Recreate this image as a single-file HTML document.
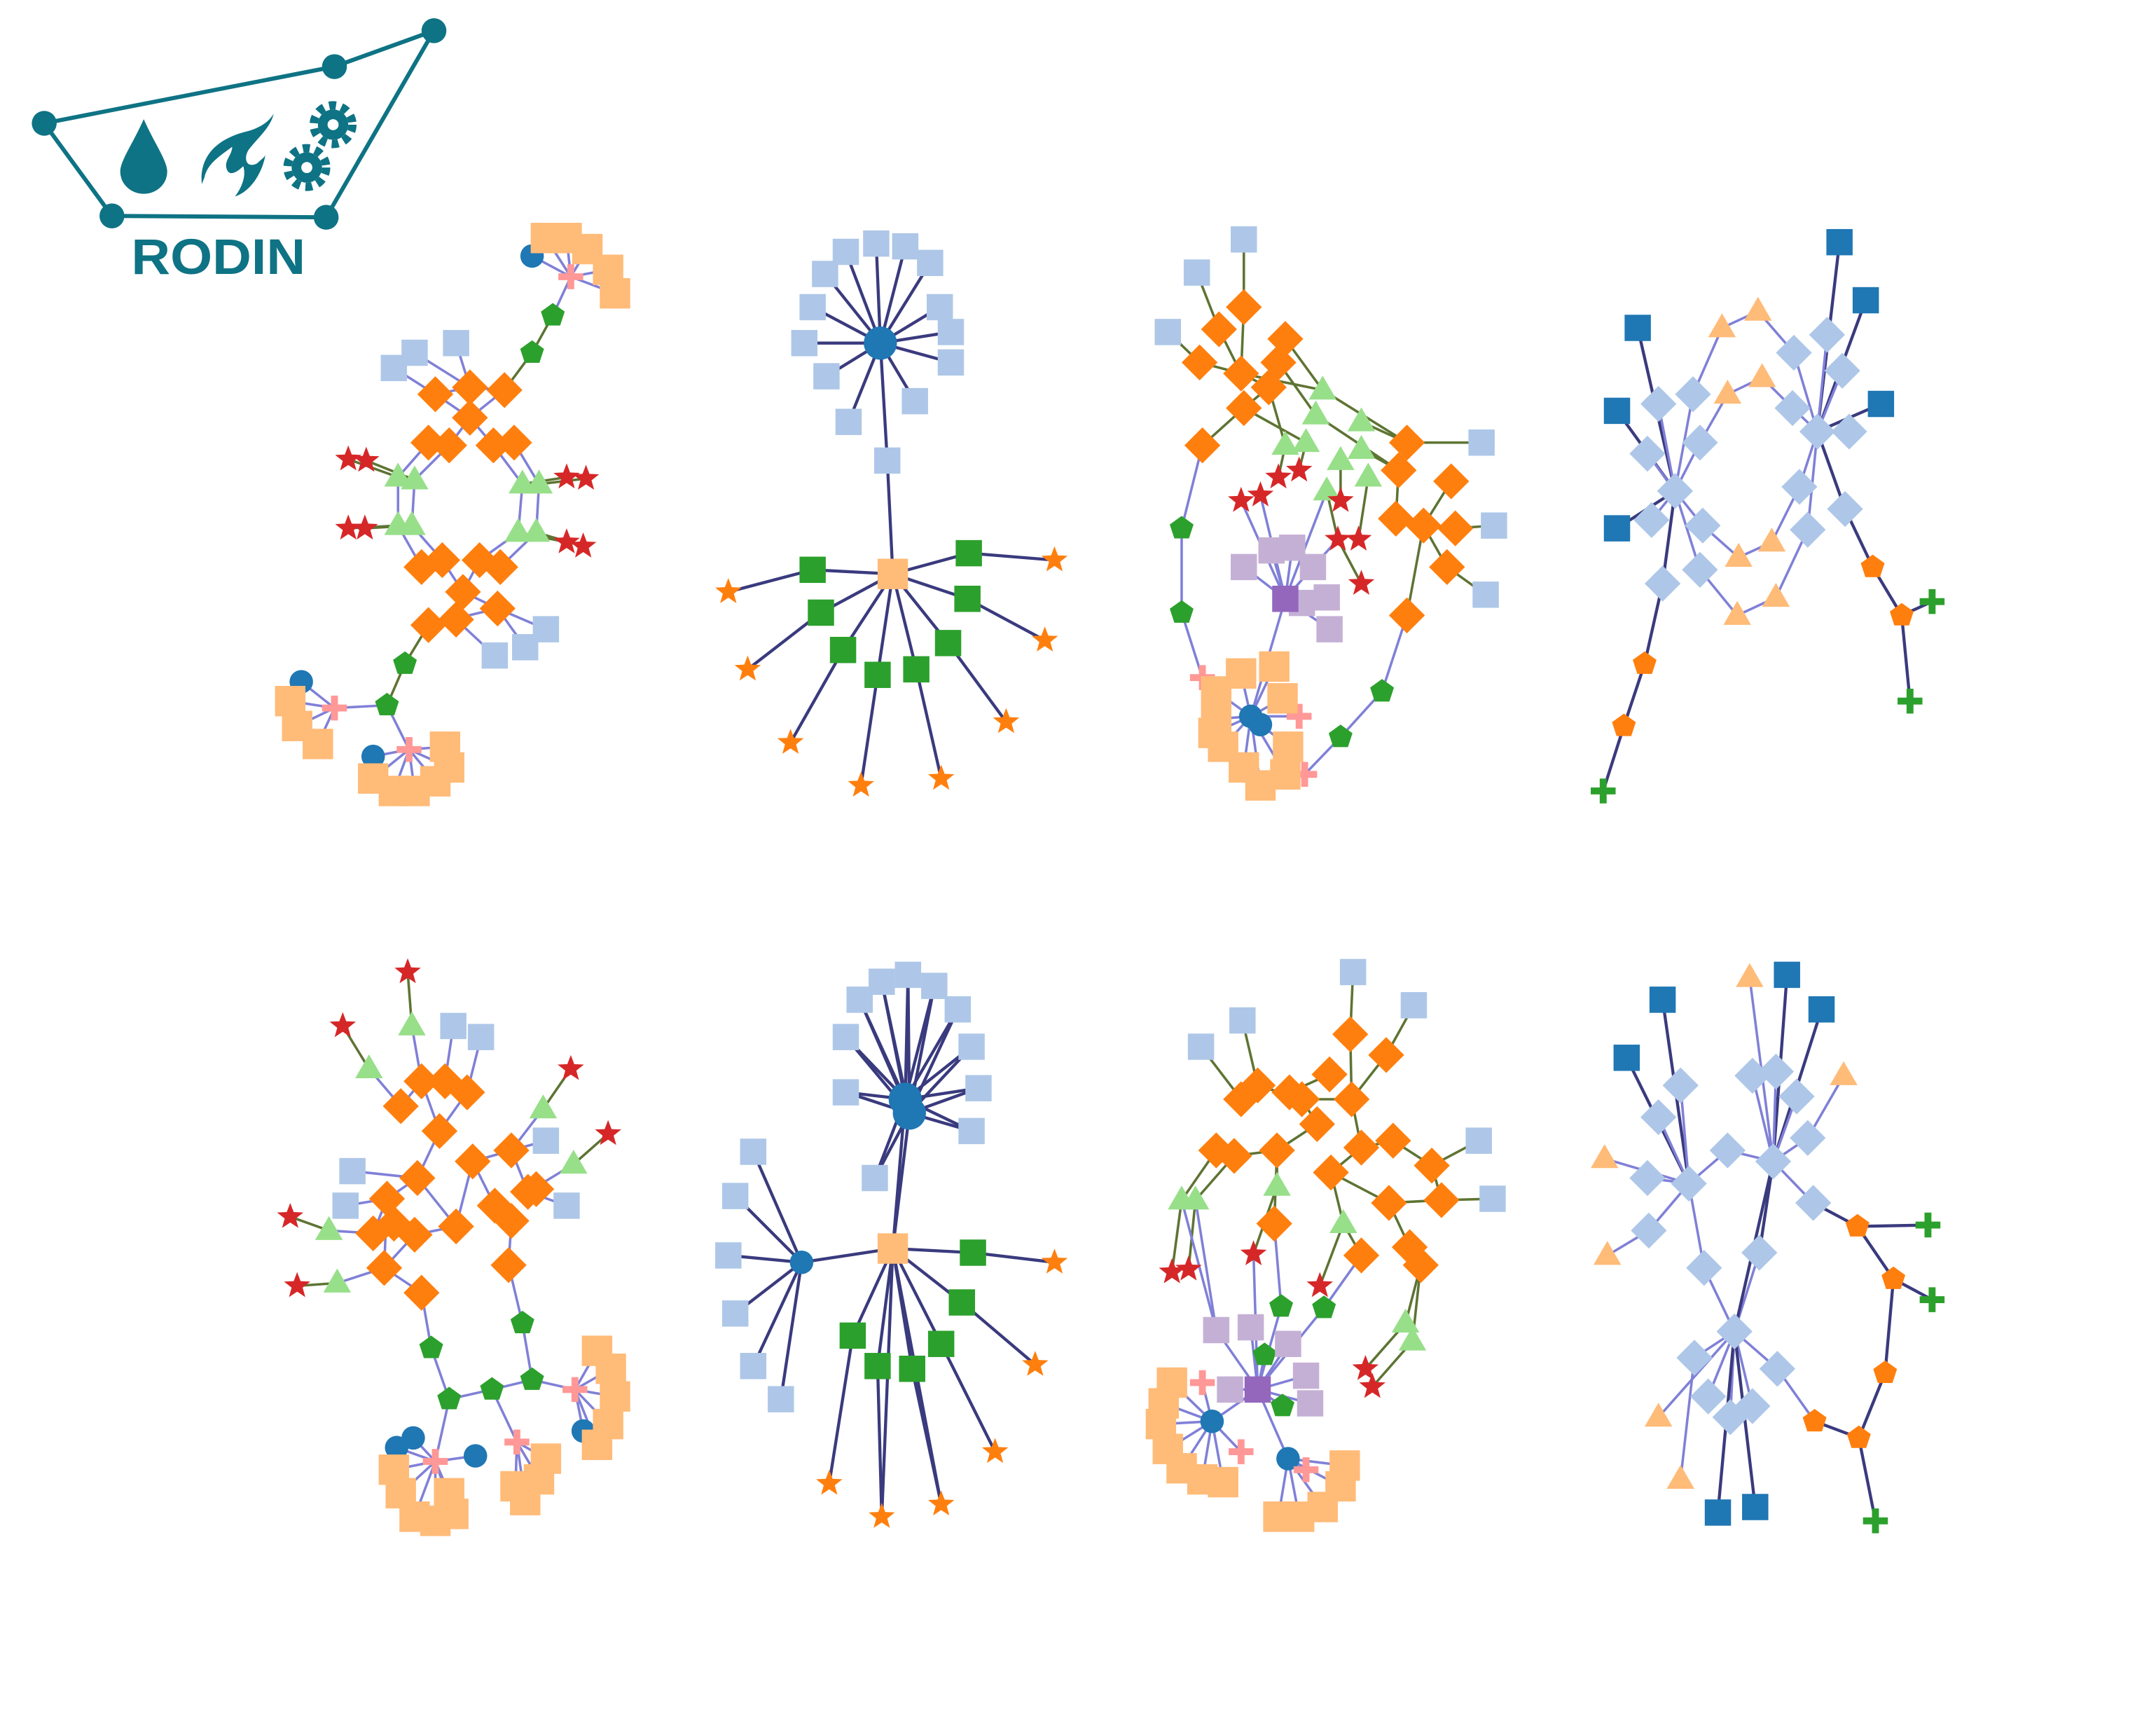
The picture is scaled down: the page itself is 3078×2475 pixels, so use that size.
<!DOCTYPE html>
<html><head><meta charset="utf-8"><style>
html,body{margin:0;padding:0;background:#fff;}
svg{display:block;}
</style></head><body>
<svg id="chart" width="3078" height="2475" viewBox="0 0 1560 1254" xmlns="http://www.w3.org/2000/svg">
<rect width="1560" height="1254" fill="#fff"/>
<g fill="#0e7384" stroke="#0e7384">
<polyline points="32,89 242,48 314,22 236,157 81,156 32,89" fill="none" stroke-width="3"/>
<circle cx="32" cy="89" r="9" stroke="none"/><circle cx="242" cy="48" r="9" stroke="none"/><circle cx="314" cy="22" r="9" stroke="none"/><circle cx="236" cy="157" r="9" stroke="none"/><circle cx="81" cy="156" r="9" stroke="none"/>
<path d="M104 86 C96 104 87 116 87 124 A17 16 0 0 0 121 124 C121 116 112 104 104 86Z" stroke="none"/>
<path d="M146 133 C144 112 158 100 178 95 C190 92 196 86 198 82 C196 92 186 100 180 108 C176 114 178 122 186 118 C188 116 191 114 192 112 C190 124 182 138 170 142 C176 134 178 126 176 120 C172 124 166 128 164 122 C162 116 168 112 168 106 C160 112 150 118 148 128Z" stroke="none"/>
<g><circle cx="241" cy="90" r="14" fill="none" stroke-width="6" stroke-dasharray="5 4"/><circle cx="241" cy="90" r="11" stroke="none"/><circle cx="241" cy="90" r="4" fill="#fff" stroke="none"/></g>
<g><circle cx="222" cy="121" r="14" fill="none" stroke-width="6" stroke-dasharray="5 4"/><circle cx="222" cy="121" r="11" stroke="none"/><circle cx="222" cy="121" r="4" fill="#fff" stroke="none"/></g>
<text x="158" y="198" text-anchor="middle" font-family="Liberation Sans, sans-serif" font-weight="bold" font-size="36" textLength="126" lengthAdjust="spacingAndGlyphs" stroke="none">RODIN</text>
</g>
<g id="edges"></g><g id="nodes"></g>
</svg>
<script>
const TYPES={D:['diamond','#ff7f0e'],L:['square','#aec7e8'],T:['triangle','#98df8a'],R:['star','#d62728'],P:['pentagon','#2ca02c'],C:['circle','#1f77b4'],X:['plus','#ff9896'],Q:['bigsquare','#ffbb78'],V:['square','#c5b0d5'],U:['square','#9467bd'],B:['square','#1f77b4'],O:['star','#ff7f0e'],E:['square','#2ca02c'],Y:['triangle','#ffbb78'],Z:['pentagon','#ff7f0e'],K:['plus','#2ca02c'],A:['diamond','#aec7e8']};
const EC={l:'#8080d8',d:'#3a3a7e',o:'#5e7433'};

const g1Nodes={D:[[315,285],[340,280],[365,282],[340,302],[310,320],[325,322],[357,322],[372,320],[305,410],[320,405],[347,405],[362,410],[335,428],[330,448],[360,440],[310,452]],
T:[[288,345],[300,347],[378,350],[390,350],[288,380],[298,380],[375,385],[388,385]],
R:[[252,332],[265,333],[410,345],[424,346],[252,382],[264,382],[410,392],[422,395]],
L:[[285,266],[300,255],[330,248],[395,455],[380,468],[358,474]],
P:[[400,228],[385,255],[293,480],[280,510]],C:[[385,185],[218,493],[270,547]],X:[[413,200],[242,512],[296,542]],
Q:[[395,172],[410,172],[425,180],[440,195],[445,212],[210,507],[215,525],[230,538],[270,563],[285,572],[300,572],[315,565],[325,555],[322,540]]};
const g1Edges="D0 D1 l,D1 D2 l,D0 D3 l,D3 D2 l,D1 D3 l,D4 D5 l,D6 D7 l,D3 D5 l,D3 D6 l,D4 T0 l,D5 T1 l,D6 T2 l,D7 T3 l,T0 T4 l,T1 T5 l,T2 T6 l,T3 T7 l,T4 D8 l,T5 D9 l,T6 D10 l,T7 D11 l,D8 D9 l,D10 D11 l,D9 D12 l,D10 D12 l,D12 D13 l,D12 D14 l,D13 D15 l,D14 D15 l,D0 L0 l,D1 L1 l,D1 L2 l,D14 L3 l,D14 L4 l,D13 L5 l,D2 P1 o,P1 P0 o,P0 X0 l,X0 C0 l,X0 Q0-4 l,D15 P2 o,P2 P3 o,P3 X1 l,X1 C1 l,X1 Q5-7 l,P3 X2 l,X2 C2 l,X2 Q8-13 l,T0 R0 o,T1 R1 o,T2 R2 o,T3 R3 o,T4 R4 o,T5 R5 o,T6 R6 o,T7 R7 o";

const g2Nodes={C:[[637,248]],L:[[612,182],[634,176],[655,178],[673,190],[680,222],[688,240],[688,262],[662,290],[642,333],[614,305],[598,272],[582,248],[588,222],[597,198]],
Q:[[646,415]],E:[[588,412],[594,443],[610,470],[635,488],[663,484],[686,465],[700,433],[701,400]],
O:[[527,428],[541,484],[572,537],[623,568],[681,563],[728,522],[756,463],[763,405]]};
const g2Edges="C0 L0-13 d,L8 Q0 d,Q0 E0-7 d,E0 O0 d,E1 O1 d,E2 O2 d,E3 O3 d,E4 O4 d,E5 O5 d,E6 O6 d,E7 O7 d";

const g3Nodes={L:[[900,173],[866,197],[845,240],[1072,320],[1081,380],[1075,430]],
D:[[900,222],[882,238],[868,262],[898,270],[930,245],[925,262],[918,280],[900,295],[870,322],[1018,320],[1012,340],[1050,348],[1010,375],[1030,380],[1053,382],[1047,410],[1018,445]],
T:[[957,282],[952,300],[985,305],[930,322],[945,320],[970,333],[985,325],[990,345],[960,355]],
R:[[898,362],[912,358],[925,345],[940,340],[970,362],[968,390],[983,390],[985,422]],
P:[[855,382],[855,443],[1000,500],[970,533]],V:[[900,410],[920,398],[935,396],[950,410],[960,432],[962,455],[942,436]],U:[[930,433]],
X:[[870,490],[940,518],[944,560]],
Q:[[880,500],[898,487],[922,482],[928,505],[880,520],[885,540],[900,555],[912,568],[930,560],[932,540],[878,530]],C:[[905,518],[912,524]]};
const g3Edges="L0 D0 o,L1 D1 o,L2 D2 o,D0 D3 o,D1 D3 o,D2 D3 o,D3 D6 o,D4 D5 o,D5 D6 o,D6 D7 o,D7 D8 o,D3 T0 o,D4 T0 o,D5 T1 o,D6 T3 o,D7 T4 o,T0 D9 o,T1 D10 o,T2 D9 o,T6 D10 o,D9 D10 o,D10 D12 o,D12 D13 o,D13 D14 o,D11 D13 o,D13 D15 o,D13 D16 o,L3 D9 o,L4 D14 o,L5 D15 o,T3 R2 o,T4 R3 o,T5 R4 o,T7 R6 o,T8 R5 o,R5 R7 o,D8 P0 l,P0 P1 l,P1 X0 l,D16 P2 l,P2 P3 l,P3 X2 l,U0 V0-6 l,U0 C0 l,U0 R0 l,U0 R1 l,V3 R5 l,C0 Q0-10 l,X0 Q0 l,X1 C0 l,X2 Q8 l,C0 C1 l,T8 U0 l";

const g4Nodes={A:[[1200,292],[1225,285],[1192,328],[1230,320],[1212,355],[1195,376],[1232,380],[1203,422],[1230,412],[1298,255],[1322,242],[1333,268],[1297,295],[1315,312],[1338,312],[1302,352],[1308,383],[1335,368]],
Y:[[1246,237],[1272,225],[1250,285],[1275,273],[1258,403],[1282,392],[1257,445],[1285,432]],
B:[[1185,237],[1170,297],[1170,382],[1331,175],[1350,217],[1361,292]],
Z:[[1190,480],[1175,525],[1355,410],[1376,445]],K:[[1160,572],[1398,435],[1382,507]]};
const g4Edges="B0 A4 d,B1 A4 d,B2 A4 d,B3 A13 d,B4 A13 d,B5 A13 d,A4 A0-3 l,A4 A5-8 l,A13 A9-12 l,A13 A14-17 l,A1 Y0 l,Y0 Y1 l,Y1 A9 l,A3 Y2 l,Y2 Y3 l,Y3 A12 l,A6 Y4 l,Y4 Y5 l,Y5 A15 l,A8 Y6 l,Y6 Y7 l,Y7 A16 l,A4 A7 d,A7 Z0 d,Z0 Z1 d,Z1 K0 d,A13 A17 d,A17 Z2 d,Z2 Z3 d,Z3 K1 d,Z3 K2 d";

const g5Nodes={D:[[290,800],[305,782],[322,782],[338,790],[318,818],[302,852],[280,867],[270,892],[285,885],[300,893],[278,917],[305,935],[330,887],[342,840],[358,872],[370,832],[382,862],[370,883],[388,860],[368,915]],
L:[[328,742],[348,750],[255,847],[250,872],[395,825],[410,872]],
T:[[298,742],[267,773],[393,802],[415,842],[238,890],[244,928]],
R:[[295,703],[248,742],[413,773],[440,820],[210,880],[215,930]],
P:[[312,975],[378,957],[325,1012],[356,1005],[385,998]],C:[[287,1047],[299,1040],[344,1053],[422,1035]],X:[[315,1057],[374,1043],[416,1005]],
Q:[[285,1063],[290,1080],[300,1097],[315,1100],[328,1095],[325,1080],[373,1075],[380,1085],[390,1070],[395,1055],[432,977],[442,990],[445,1010],[440,1030],[432,1045]]};
const g5Edges="D0 D1 l,D1 D2 l,D2 D3 l,D1 D4 l,D3 D4 l,D4 D5 l,D5 D6 l,D6 D7 l,D7 D8 l,D8 D9 l,D6 D10 l,D9 D10 l,D10 D11 l,D5 D12 l,D12 D13 l,D13 D15 l,D15 D16 l,D16 D18 l,D14 D17 l,D13 D14 l,D17 D19 l,D12 D9 l,D2 L0 l,D3 L1 l,D5 L2 l,D6 L3 l,D15 L4 l,D16 L5 l,D0 T1 l,D1 T0 l,D15 T2 l,D16 T3 l,D7 T4 l,D10 T5 l,T0 R0 o,T1 R1 o,T2 R2 o,T3 R3 o,T4 R4 o,T5 R5 o,D11 P0 l,P0 P2 l,P2 X0 l,D19 P1 l,P1 P4 l,P4 X2 l,P2 P3 l,P3 P4 l,P3 X1 l,X0 C0 l,X0 C1 l,X0 C2 l,X0 Q0-5 l,X1 Q6-9 l,X2 Q10-14 l,X2 C3 l";

const g6Nodes={C:[[655,795],[658,805],[580,913]],
L:[[622,723],[638,710],[657,705],[676,713],[693,730],[703,757],[708,787],[703,818],[612,750],[612,790],[633,852],[545,833],[532,865],[527,908],[532,950],[545,988],[565,1012]],
Q:[[646,903]],E:[[704,906],[696,942],[681,972],[660,990],[635,988],[617,966]],
O:[[763,913],[749,987],[720,1050],[681,1088],[638,1097],[600,1073]]};
const g6Edges="C0 L0-10 d,C1 L0-10 d,C0 C1 d,C0 Q0 d,C1 Q0 d,Q0 C2 d,C2 L11-16 d,Q0 E0-5 d,E0 O0 d,E1 O1 d,E2 O2 d,E3 O3 d,E4 O4 d,E5 O5 d,Q0 O3 d,Q0 O4 d";

const g7Nodes={L:[[979,703],[1023,727],[899,738],[869,757],[1070,825],[1080,867]],
D:[[977,748],[1003,763],[962,777],[933,790],[898,795],[910,785],[942,795],[978,795],[953,813],[985,830],[1008,825],[880,832],[893,836],[924,832],[963,848],[1036,843],[1043,868],[1005,870],[922,885],[985,908],[1020,902],[1028,915]],
T:[[855,868],[865,868],[924,858],[972,885],[1017,957],[1022,970]],
R:[[848,920],[860,918],[907,907],[955,930],[988,990],[993,1003]],
P:[[927,945],[958,946],[915,980],[928,1017]],V:[[880,962],[905,960],[932,972],[945,995],[948,1015],[890,1005]],U:[[910,1005]],
Q:[[848,1000],[842,1015],[840,1030],[845,1048],[855,1062],[870,1070],[885,1072],[925,1097],[940,1097],[957,1090],[970,1075],[973,1060]],
C:[[877,1028],[932,1055]],X:[[870,1000],[898,1050],[945,1063]]};
const g7Edges="L0 D0 o,D0 D7 o,L1 D1 o,D1 D7 o,L2 D5 o,L3 D4 o,D4 D5 o,D5 D6 o,D6 D7 o,D2 D3 o,D3 D6 o,D7 D9 o,D9 D10 o,D10 D15 o,L4 D15 o,L5 D16 o,D15 D16 o,D16 D17 o,D17 D20 o,D20 D21 o,D9 D14 o,D14 D17 o,D8 D13 o,D6 D8 o,D11 D12 o,D12 D13 o,D13 D18 o,D11 T0 o,D12 T1 o,D13 T2 o,D14 T3 o,D19 T3 o,T0 R0 o,T1 R1 o,T2 R2 o,T3 R3 o,T4 R4 o,T5 R5 o,D21 T4 o,D21 T5 o,D18 P0 l,D19 P1 l,P0 U0 l,P1 U0 l,U0 V0-5 l,U0 P2 l,U0 P3 l,T0 V0 l,T1 V0 l,U0 C0 l,C0 Q0-6 l,U0 C1 l,C1 Q7-11 l,X0 C0 l,X1 C0 l,X2 C1 l,R2 U0 l";

const g8Nodes={B:[[1203,723],[1293,705],[1318,730],[1177,765],[1243,1094],[1270,1090]],
Y:[[1266,707],[1334,778],[1161,838],[1163,908],[1200,1025],[1216,1070]],
A:[[1216,785],[1200,808],[1192,852],[1222,856],[1193,890],[1250,832],[1268,778],[1285,775],[1300,793],[1283,840],[1308,823],[1312,870],[1233,917],[1273,906],[1255,963],[1226,982],[1286,990],[1236,1010],[1252,1025],[1268,1017]],
Z:[[1344,887],[1370,925],[1364,993],[1345,1040],[1313,1028]],K:[[1395,886],[1398,940],[1357,1100]]};
const g8Edges="B0 A3 d,B3 A3 d,A0 A3 l,A1 A3 l,A2 A3 l,A4 A3 l,Y2 A3 l,Y3 A4 l,A3 A5 l,A5 A9 l,B1 A9 d,B2 A9 d,Y0 A9 l,Y1 A10 l,A6 A9 l,A7 A9 l,A8 A9 l,A10 A9 l,A11 A9 l,A3 A12 l,A12 A14 l,A9 A13 d,A13 A14 l,A9 A14 d,A14 A15-19 l,A14 B4 d,A14 B5 d,Y4 A14 l,Y5 A15 l,A11 Z0 d,Z0 K0 d,Z0 Z1 d,Z1 K1 d,Z1 Z2 d,Z2 Z3 d,Z3 Z4 d,Z4 A16 l,Z3 K2 d";

const GRAPHS=[[g1Nodes,g1Edges],[g2Nodes,g2Edges],[g3Nodes,g3Edges],[g4Nodes,g4Edges],[g5Nodes,g5Edges],[g6Nodes,g6Edges],[g7Nodes,g7Edges],[g8Nodes,g8Edges]];

const NS='http://www.w3.org/2000/svg';
const eg=document.getElementById('edges'), ng=document.getElementById('nodes');
function expand(tok){const k=tok[0];const r=tok.slice(1).split('-').map(Number);const out=[];const hi=r.length>1?r[1]:r[0];for(let i=r[0];i<=hi;i++)out.push([k,i]);return out;}
function starPts(x,y,R,r,n,rot){let p=[];for(let i=0;i<n*2;i++){const rad=i%2?r:R;const a=rot+Math.PI*i/n;p.push((x+rad*Math.cos(a)).toFixed(1)+','+(y+rad*Math.sin(a)).toFixed(1));}return p.join(' ');}
function polyPts(x,y,R,n,rot){let p=[];for(let i=0;i<n;i++){const a=rot+2*Math.PI*i/n;p.push((x+R*Math.cos(a)).toFixed(1)+','+(y+R*Math.sin(a)).toFixed(1));}return p.join(' ');}
GRAPHS.forEach((g,gi)=>{
  const nodes=g[0];
  g[1].split(',').forEach(s=>{
    const [a,b,c]=s.trim().split(' ');
    expand(a).forEach(A=>expand(b).forEach(B=>{
      const p=nodes[A[0]][A[1]], q=nodes[B[0]][B[1]];
      if(!p||!q)return;
      const ln=document.createElementNS(NS,'line');
      ln.setAttribute('x1',p[0]);ln.setAttribute('y1',p[1]);ln.setAttribute('x2',q[0]);ln.setAttribute('y2',q[1]);
      ln.setAttribute('stroke',EC[c]);ln.setAttribute('stroke-width',c==='d'?2.2:1.8);
      
      
      eg.appendChild(ln);
    }));
  });
  Object.keys(nodes).forEach(k=>{
    const [shape,col]=TYPES[k];
    nodes[k].forEach(([x,y])=>{
      let el;
      if(shape==='circle'){el=document.createElementNS(NS,'circle');el.setAttribute('cx',x);el.setAttribute('cy',y);el.setAttribute('r',(gi===1&&k==='C')?12:(gi===5&&k==='C'&&y<900?12:8.5));}
      else if(shape==='square'||shape==='bigsquare'){const h=shape==='bigsquare'?11:9.5;el=document.createElementNS(NS,'rect');el.setAttribute('x',x-h);el.setAttribute('y',y-h);el.setAttribute('width',2*h);el.setAttribute('height',2*h);}
      else if(shape==='diamond'){el=document.createElementNS(NS,'polygon');el.setAttribute('points',polyPts(x,y,13,4,0));}
      else if(shape==='triangle'){el=document.createElementNS(NS,'polygon');el.setAttribute('points',polyPts(x,y+1,11.5,3,-Math.PI/2));}
      else if(shape==='pentagon'){el=document.createElementNS(NS,'polygon');el.setAttribute('points',polyPts(x,y,9,5,-Math.PI/2));}
      else if(shape==='star'){el=document.createElementNS(NS,'polygon');el.setAttribute('points',starPts(x,y,10,4.2,5,-Math.PI/2));}
      else if(shape==='plus'){el=document.createElementNS(NS,'path');el.setAttribute('d',`M${x-9} ${y}H${x+9}M${x} ${y-9}V${y+9}`);el.setAttribute('stroke',col);el.setAttribute('stroke-width',5);}
      if(shape!=='plus')el.setAttribute('fill',col);
      
      
      ng.appendChild(el);
    });
  });
});
</script>
</body></html>
